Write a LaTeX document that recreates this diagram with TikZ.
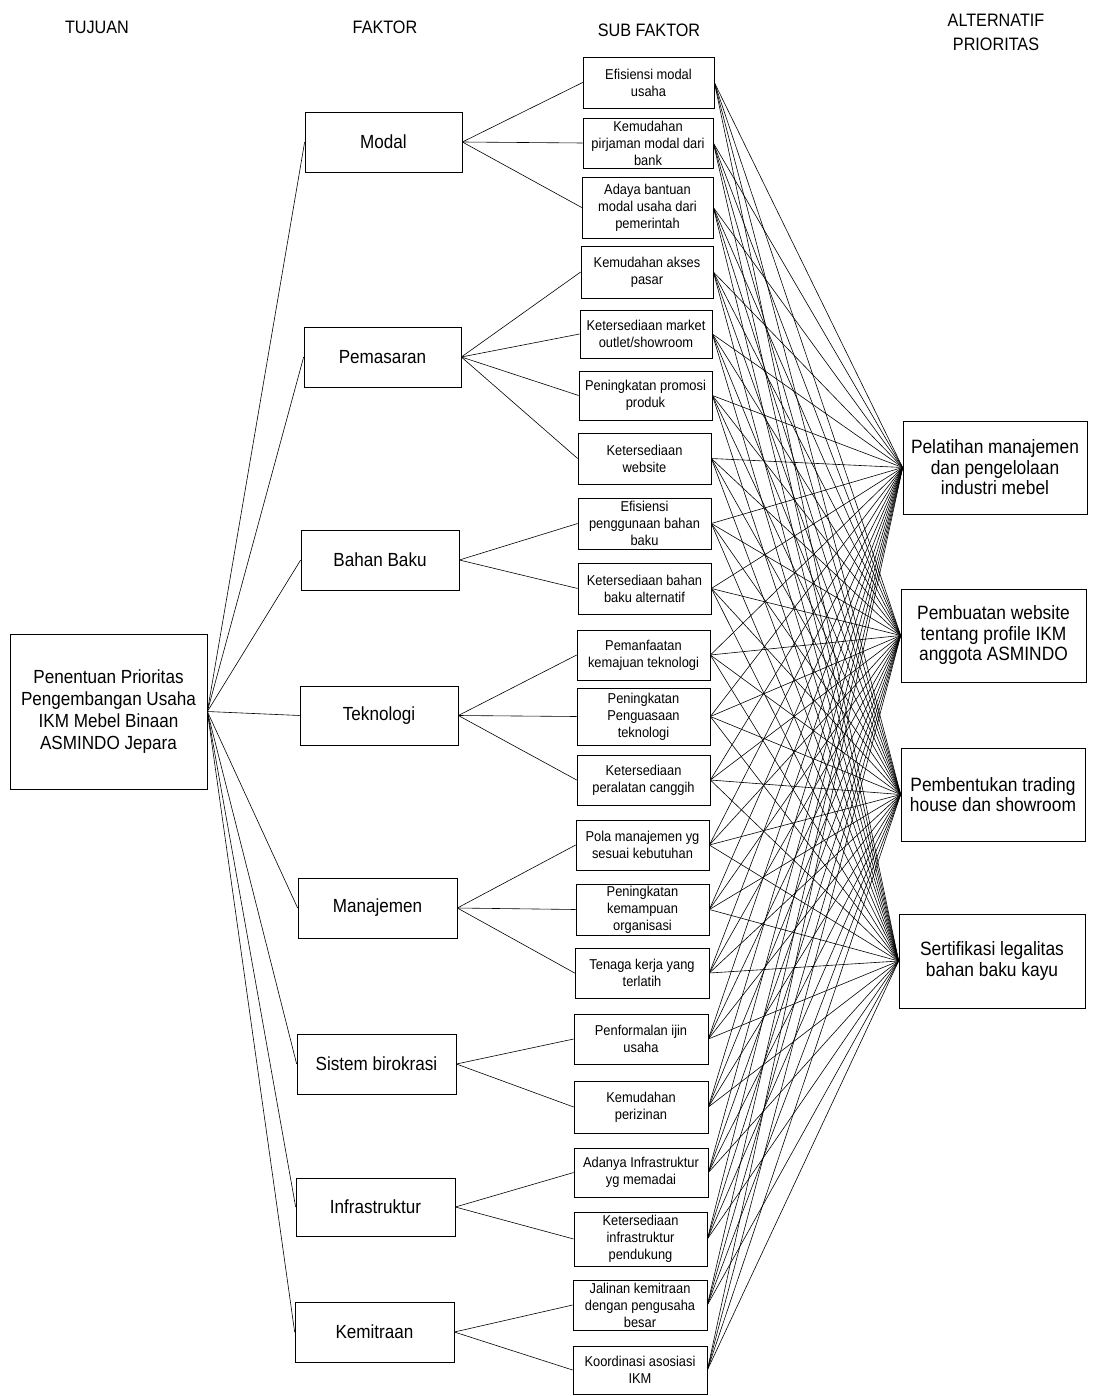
\documentclass[tikz,border=0pt]{standalone}
\usepackage{fontspec}
\setmainfont{Liberation Sans}[FakeStretch=0.9]
\begin{document}
\begin{tikzpicture}[x=1pt,y=-1pt,
  box/.style={draw, line width=0.7pt, inner sep=0pt, align=center},
  sub/.style={box, font=\fontsize{14.3}{17}\selectfont},
  fak/.style={box, font=\fontsize{19}{22}\selectfont, minimum height=60pt},
  alt/.style={box, font=\fontsize{19.3}{20.5}\selectfont},
  head/.style={align=center, font=\fontsize{18}{24}\selectfont},
  link/.style={line width=0.6pt}]
\useasboundingbox (0,0) rectangle (1096,1396);
% headers
\node[head] (h1) at (97,27) {TUJUAN};
\node[head] (h2) at (385,27) {FAKTOR};
\node[head] (h3) at (649,30) {SUB FAKTOR};
\node[head] (h4) at (996,32) {ALTERNATIF\\PRIORITAS};
% goal
\node[box, font=\fontsize{19}{22}\selectfont, minimum width=197pt, minimum height=155pt] (g) at (108.5,711.5)
  {Penentuan Prioritas\\Pengembangan Usaha\\IKM Mebel Binaan\\ASMINDO Jepara};
% factors
\node[fak, minimum width=157pt] (f1) at (383.5,142) {Modal};
\node[fak, minimum width=157pt] (f2) at (382.5,357) {Pemasaran};
\node[fak, minimum width=158pt] (f3) at (380,560) {Bahan Baku};
\node[fak, minimum width=158pt, minimum height=59pt] (f4) at (379,715.5) {Teknologi};
\node[fak, minimum width=159pt] (f5) at (377.5,908) {Manajemen};
\node[fak, minimum width=159pt] (f6) at (376.5,1064) {Sistem birokrasi};
\node[fak, minimum width=159pt, minimum height=58pt] (f7) at (375.5,1207) {Infrastruktur};
\node[fak, minimum width=159pt] (f8) at (374.5,1332) {Kemitraan};
% sub factors
\node[sub, minimum width=131pt, minimum height=51pt] (s1) at (648.5,82.5) {Efisiensi modal\\usaha};
\node[sub, minimum width=130pt, minimum height=50pt] (s2) at (648,143) {Kemudahan\\pirjaman modal dari\\bank};
\node[sub, minimum width=131pt, minimum height=61pt] (s3) at (647.5,207.5) {Adaya bantuan\\modal usaha  dari\\pemerintah};
\node[sub, minimum width=132pt, minimum height=52pt] (s4) at (647,272) {Kemudahan akses\\pasar};
\node[sub, minimum width=132pt, minimum height=48pt] (s5) at (646,334) {Ketersediaan market\\outlet/showroom};
\node[sub, minimum width=133pt, minimum height=49pt] (s6) at (645.5,395.5) {Peningkatan promosi\\produk};
\node[sub, minimum width=133pt, minimum height=51pt] (s7) at (644.5,458.5) {Ketersediaan\\website};
\node[sub, minimum width=133pt, minimum height=51pt] (s8) at (644.5,523.5) {Efisiensi\\penggunaan bahan\\baku};
\node[sub, minimum width=133pt, minimum height=51pt] (s9) at (644.5,588.5) {Ketersediaan bahan\\baku alternatif};
\node[sub, minimum width=133pt, minimum height=50pt] (s10) at (643.5,655) {Pemanfaatan\\kemajuan teknologi};
\node[sub, minimum width=133pt, minimum height=57pt] (s11) at (643.5,716.5) {Peningkatan\\Penguasaan\\teknologi};
\node[sub, minimum width=133pt, minimum height=50pt] (s12) at (643.5,780) {Ketersediaan\\peralatan canggih};
\node[sub, minimum width=133pt, minimum height=50pt] (s13) at (642.5,845) {Pola manajemen yg\\sesuai kebutuhan};
\node[sub, minimum width=133pt, minimum height=51pt] (s14) at (642.5,909.5) {Peningkatan\\kemampuan\\organisasi};
\node[sub, minimum width=134pt, minimum height=50pt] (s15) at (642,973) {Tenaga kerja yang\\terlatih};
\node[sub, minimum width=134pt, minimum height=50pt] (s16) at (641,1039) {Penformalan ijin\\usaha};
\node[sub, minimum width=134pt, minimum height=52pt] (s17) at (641,1107) {Kemudahan\\perizinan};
\node[sub, minimum width=134pt, minimum height=49pt] (s18) at (641,1172.5) {Adanya Infrastruktur\\yg memadai};
\node[sub, minimum width=133pt, minimum height=54pt] (s19) at (640.5,1239) {Ketersediaan\\infrastruktur\\pendukung};
\node[sub, minimum width=134pt, minimum height=50pt] (s20) at (640,1305) {Jalinan kemitraan\\dengan pengusaha\\besar};
\node[sub, minimum width=134pt, minimum height=48pt] (s21) at (640,1370) {Koordinasi asosiasi\\IKM};
% alternatives
\node[alt, minimum width=184pt, minimum height=93pt] (a1) at (995,467.5) {Pelatihan manajemen\\dan pengelolaan\\industri mebel};
\node[alt, minimum width=185pt, minimum height=93pt] (a2) at (993.5,635.5) {Pembuatan website\\tentang profile IKM\\anggota ASMINDO};
\node[alt, minimum width=184pt, minimum height=93pt] (a3) at (993,794.5) {Pembentukan trading\\house dan showroom};
\node[alt, minimum width=186pt, minimum height=94pt] (a4) at (992,961) {Sertifikasi legalitas\\bahan baku kayu};
% goal -> factors
\foreach \f in {1,...,8} \draw[link] (g.east) -- (f\f.west);
% factors -> sub factors
\foreach \f/\s in {1/1,1/2,1/3,2/4,2/5,2/6,2/7,3/8,3/9,4/10,4/11,4/12,5/13,5/14,5/15,6/16,6/17,7/18,7/19,8/20,8/21}
  \draw[link] (f\f.east) -- (s\s.west);
% sub factors -> alternatives
\foreach \s in {1,...,21} \foreach \a in {1,...,4} \draw[link] (s\s.east) -- (a\a.west);
\end{tikzpicture}
\end{document}
